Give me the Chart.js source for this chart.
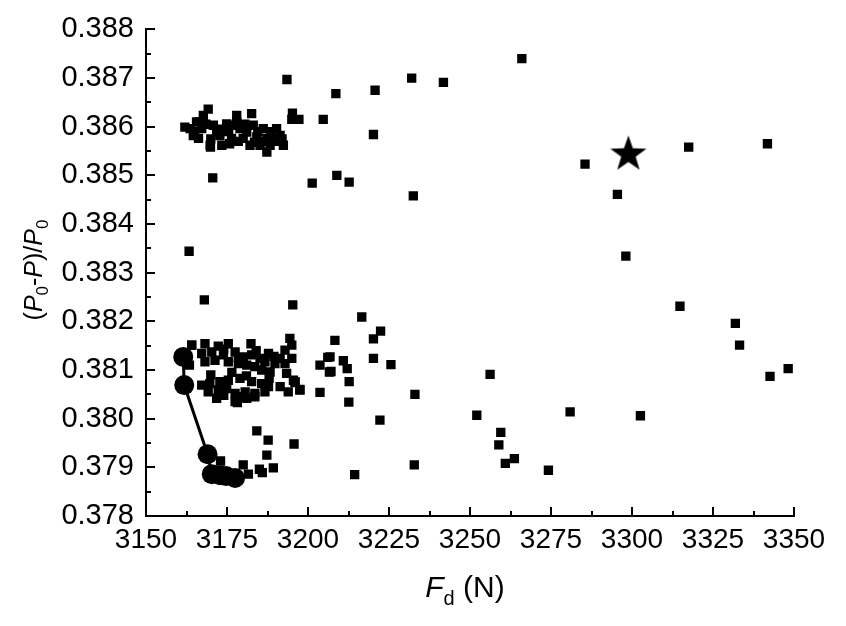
<!DOCTYPE html>
<html>
<head>
<meta charset="utf-8">
<script src="https://cdn.jsdelivr.net/npm/chart.js@4.4.1/dist/chart.umd.min.js"></script>
<style>
  html, body { margin: 0; padding: 0; background: #fff; }
  #wrap { width: 846px; height: 626px; }
</style>
</head>
<body>
<div id="wrap"><canvas id="myChart" width="846" height="626"></canvas></div>
<script>
// x ticks (N) and y ticks
var xTicks = [3150, 3175, 3200, 3225, 3250, 3275, 3300, 3325, 3350];
var yTicks = [0.378, 0.379, 0.380, 0.381, 0.382, 0.383, 0.384, 0.385, 0.386, 0.387, 0.388];

// upper group of samples
var upperF = [3162.0, 3163.6, 3165.6, 3167.7, 3169.2, 3164.6, 3167.2, 3166.2, 3169.8, 3170.8,
  3171.8, 3172.8, 3173.4, 3174.9, 3176.9, 3178.0, 3176.4, 3179.0, 3180.0, 3181.1,
  3182.1, 3182.6, 3183.1, 3184.2, 3185.2, 3186.2, 3187.3, 3188.3, 3189.3, 3190.3,
  3191.4, 3192.4, 3169.9, 3187.3, 3195.2, 3195.0, 3197.2,
  3165.0, 3168.5, 3175.5, 3178.5, 3184.5, 3188.5, 3190.0, 3170.0, 3173.5, 3180.5,
  3186.5, 3192.0, 3166.5, 3175.8, 3183.5, 3178.0];
var upperV = [0.38599, 0.38596, 0.38610, 0.38623, 0.38636, 0.38582, 0.38596, 0.38576, 0.38562, 0.38603,
  0.38589, 0.38582, 0.38562, 0.38606, 0.38603, 0.38623, 0.38576, 0.38596, 0.38576, 0.38589,
  0.38562, 0.38627, 0.38603, 0.38579, 0.38562, 0.38596, 0.38576, 0.38562, 0.38576, 0.38596,
  0.38582, 0.38562, 0.38558, 0.38548, 0.38628, 0.38615, 0.38615,
  0.38590, 0.38605, 0.38590, 0.38570, 0.38590, 0.38590, 0.38570, 0.38575, 0.38595, 0.38605,
  0.38570, 0.38575, 0.38610, 0.38565, 0.38568, 0.38610];

// lower group of samples
var lowerF = [3164.1, 3168.2, 3172.3, 3175.4, 3182.4, 3187.8, 3194.4, 3195.0, 3192.9, 3167.2,
  3170.3, 3173.9, 3177.5, 3180.0, 3182.6, 3185.2, 3186.7, 3189.8, 3191.4, 3195.0,
  3168.2, 3171.3, 3175.4, 3178.5, 3181.1, 3183.6, 3185.7, 3188.3, 3192.9, 3193.4,
  3195.5, 3167.2, 3169.7, 3172.8, 3175.4, 3179.0, 3182.6, 3185.7, 3187.8, 3191.4,
  3169.2, 3172.3, 3174.9, 3177.5, 3180.6, 3183.6, 3186.7, 3171.8, 3177.5, 3181.1,
  3183.6, 3193.9, 3197.5, 3196.0, 3163.4, 3164.1,
  3174.0, 3178.5, 3184.0, 3189.5, 3170.0, 3176.5, 3181.0, 3188.0, 3174.0, 3179.5];
var lowerV = [0.38151, 0.38154, 0.38149, 0.38154, 0.38154, 0.38134, 0.38165, 0.38151, 0.38141, 0.38134,
  0.38137, 0.38131, 0.38137, 0.38127, 0.38131, 0.38124, 0.38117, 0.38113, 0.38124, 0.38124,
  0.38117, 0.38120, 0.38117, 0.38113, 0.38110, 0.38107, 0.38100, 0.38096, 0.38113, 0.38093,
  0.38079, 0.38069, 0.38072, 0.38076, 0.38079, 0.38083, 0.38076, 0.38072, 0.38066, 0.38066,
  0.38055, 0.38059, 0.38062, 0.38052, 0.38055, 0.38052, 0.38055, 0.38042, 0.38035, 0.38042,
  0.38045, 0.38055, 0.38059, 0.38076, 0.38110, 0.38151,
  0.38143, 0.38125, 0.38140, 0.38128, 0.38090, 0.38095, 0.38088, 0.38083, 0.38048, 0.38045];

// scattered samples
var scatterF = [3193.5, 3204.7, 3170.6, 3201.3, 3208.9, 3208.6, 3212.7, 3220.7, 3220.2, 3232.0,
  3241.8, 3232.5, 3266.0, 3285.5, 3295.5, 3298.1, 3317.5, 3341.8, 3163.3,
  3216.6, 3222.4, 3220.2, 3208.3, 3206.8, 3210.9, 3212.1, 3220.2, 3225.6, 3207.1,
  3212.7, 3212.6, 3233.0, 3222.2, 3256.2, 3252.1, 3259.5, 3258.9, 3263.7, 3260.9,
  3232.8, 3214.4, 3274.2, 3280.9, 3302.6, 3314.8, 3331.9, 3333.2, 3342.6, 3348.2,
  3168.0, 3195.3, 3206.1, 3203.7, 3206.6, 3203.7, 3195.7, 3184.2, 3187.7, 3187.3,
  3189.3, 3185.0, 3185.9, 3197.5, 3196.0, 3181.6, 3180.0, 3173.0, 3178.2];
var scatterV = [0.38697, 0.38615, 0.38495, 0.38484, 0.38500, 0.38668, 0.38486, 0.38675, 0.38584, 0.38700,
  0.38691, 0.38458, 0.38740, 0.38523, 0.38461, 0.38334, 0.38558, 0.38565, 0.38344,
  0.38209, 0.38180, 0.38164, 0.38161, 0.38127, 0.38119, 0.38103, 0.38124, 0.38111, 0.38097,
  0.38076, 0.38034, 0.38050, 0.37997, 0.38091, 0.38007, 0.37972, 0.37946, 0.37918, 0.37908,
  0.37905, 0.37885, 0.37894, 0.38014, 0.38006, 0.38231, 0.38196, 0.38151, 0.38087, 0.38103,
  0.38244, 0.38234, 0.38126, 0.38110, 0.38096, 0.38054, 0.37948, 0.37975, 0.37956, 0.37925,
  0.37899, 0.37896, 0.37889, 0.38060, 0.38074, 0.37886, 0.37905, 0.37913, 0.38033];

// front (circles joined by line)
var frontF = [3161.5, 3161.8, 3169.0, 3170.3, 3172.8, 3174.7, 3177.5];
var frontV = [0.38127, 0.38069, 0.37927, 0.37886, 0.37884, 0.37882, 0.37878];

// chosen point (star)
var starF = [3298.9];
var starV = [0.38545];

function toPts(xs, ys) {
  var out = [];
  for (let i = 0; i < xs.length; i++) out.push({x: xs[i], y: ys[i]});
  return out;
}

var samples = toPts(upperF, upperV).concat(toPts(lowerF, lowerV), toPts(scatterF, scatterV));

// filled five point star used as point style
var starImg = document.createElement('canvas');
starImg.width = 40; starImg.height = 40;
(function () {
  var c = starImg.getContext('2d');
  var cx = 20, cy = 21, ro = 19, ri = 7.6;
  c.beginPath();
  for (let k = 0; k < 10; k++) {
    var r = k % 2 ? ri : ro;
    var a = -Math.PI / 2 + k * Math.PI / 5;
    c.lineTo(cx + r * Math.cos(a), cy + r * Math.sin(a));
  }
  c.closePath();
  c.fillStyle = '#000';
  c.fill();
})();

var L = 146, T = 29, R = 794, B = 516;

var axisDeco = {
  id: 'axisDeco',
  afterDraw: function (chart) {
    var ctx = chart.ctx;
    var xs = chart.scales.x, ys = chart.scales.y;
    ctx.save();
    ctx.strokeStyle = '#000';
    ctx.lineWidth = 2;
    // x ticks, pointing inward
    for (let v = xTicks[0]; v <= xTicks[xTicks.length - 1] + 0.01; v += 12.5) {
      var px = Math.round(xs.getPixelForValue(v));
      var major = Math.abs((v - 3150) % 25) < 0.01;
      ctx.beginPath();
      ctx.moveTo(px, B);
      ctx.lineTo(px, B - (major ? 9 : 5));
      ctx.stroke();
    }
    // y ticks
    for (let i = 0; i <= 20; i++) {
      var val = 0.378 + i * 0.0005;
      var py = Math.round(ys.getPixelForValue(val));
      ctx.beginPath();
      ctx.moveTo(L, py);
      ctx.lineTo(L + (i % 2 === 0 ? 9 : 5), py);
      ctx.stroke();
    }
    ctx.fillStyle = '#000';
    ctx.textBaseline = 'alphabetic';
    // x title: F_d (N)
    var big = '30px "Liberation Sans", Arial, sans-serif';
    var bigI = 'italic 30px "Liberation Sans", Arial, sans-serif';
    var sub = '20px "Liberation Sans", Arial, sans-serif';
    var parts = [[bigI, 'F', 0], [sub, 'd', 8], [big, ' (N)', 0]];
    var w = 0;
    parts.forEach(function (p) { ctx.font = p[0]; w += ctx.measureText(p[1]).width; });
    var x0 = 465 - w / 2;
    parts.forEach(function (p) {
      ctx.font = p[0];
      ctx.fillText(p[1], x0, 597 + p[2]);
      x0 += ctx.measureText(p[1]).width;
    });
    // y title: (P0-P)/P0
    var f = '25px "Liberation Sans", Arial, sans-serif';
    var fi = 'italic 25px "Liberation Sans", Arial, sans-serif';
    var fs = '17px "Liberation Sans", Arial, sans-serif';
    var yp = [[f, '(', 0], [fi, 'P', 0], [fs, '0', 6], [f, '-', 0], [fi, 'P', 0], [f, ')/', 0], [fi, 'P', 0], [fs, '0', 6]];
    w = 0;
    yp.forEach(function (p) { ctx.font = p[0]; w += ctx.measureText(p[1]).width; });
    ctx.translate(42, 270);
    ctx.rotate(-Math.PI / 2);
    x0 = -w / 2;
    yp.forEach(function (p) {
      ctx.font = p[0];
      ctx.fillText(p[1], x0, p[2]);
      x0 += ctx.measureText(p[1]).width;
    });
    ctx.restore();
  }
};

var ctx = document.getElementById('myChart').getContext('2d');
var myChart = new Chart(ctx, {
  type: 'scatter',
  data: {
    datasets: [{
      label: 'front',
      data: toPts(frontF, frontV),
      showLine: true,
      borderColor: '#000',
      backgroundColor: '#000',
      borderWidth: 3,
      pointRadius: 10,
      pointBorderWidth: 0
    }, {
      label: 'optimum',
      data: toPts(starF, starV),
      pointStyle: starImg,
      pointRadius: 19
    }, {
      label: 'samples',
      data: samples,
      pointStyle: 'rect',
      pointRadius: 6.6,
      pointBorderWidth: 0,
      backgroundColor: '#000',
      borderColor: '#000'
    }]
  },
  options: {
    responsive: false,
    animation: false,
    events: [],
    layout: { padding: { left: 0, top: T, right: 846 - R, bottom: 0 } },
    plugins: { legend: { display: false }, tooltip: { enabled: false } },
    scales: {
      x: {
        type: 'linear',
        min: 3150, max: 3350,
        afterFit: function (s) { s.height = 626 - B; },
        afterBuildTicks: function (s) { s.ticks = xTicks.map(function (v) { return {value: v}; }); },
        grid: { display: false, drawTicks: false },
        border: { display: true, color: '#000', width: 2 },
        ticks: {
          color: '#000', padding: 7, maxRotation: 0,
          font: { family: '"Liberation Sans", Arial, sans-serif', size: 28 },
          callback: function (v) { return String(v); }
        }
      },
      y: {
        type: 'linear',
        min: 0.378, max: 0.388,
        afterFit: function (s) { s.width = L; },
        afterBuildTicks: function (s) { s.ticks = yTicks.map(function (v) { return {value: v}; }); },
        grid: { display: false, drawTicks: false },
        border: { display: true, color: '#000', width: 2 },
        ticks: {
          color: '#000', padding: 12,
          font: { family: '"Liberation Sans", Arial, sans-serif', size: 29 },
          callback: function (v) { return Number(v).toFixed(3); }
        }
      }
    }
  },
  plugins: [axisDeco]
});
</script>
</body>
</html>
